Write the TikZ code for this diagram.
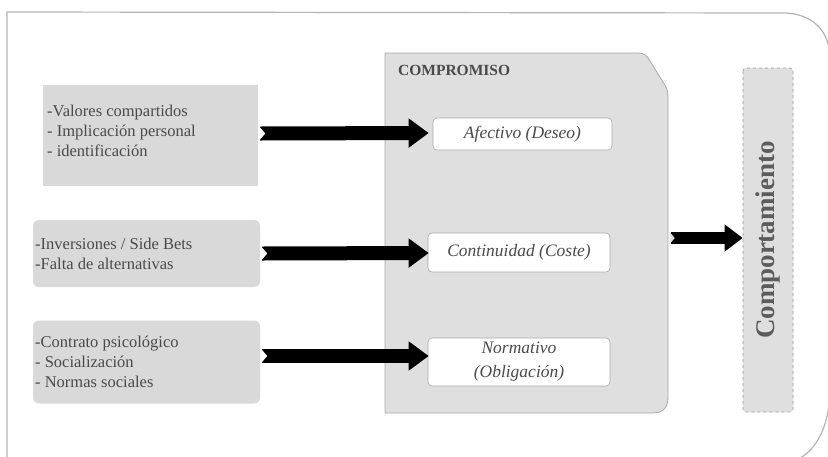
\documentclass[tikz,border=0pt]{standalone}
\usepackage{fontspec}
\setmainfont{Liberation Serif}
\usetikzlibrary{arrows.meta,calc}
\definecolor{txt}{HTML}{4A4A4A}
\definecolor{framecol}{HTML}{B4B4B4}
\definecolor{boxfill}{HTML}{D9D9D9}
\definecolor{cmpfill}{HTML}{DFDFDF}
\definecolor{cmpline}{HTML}{A8A8A8}
\begin{document}
\begin{tikzpicture}[x=1pt,y=-1pt,
  srcbox/.style={fill=boxfill, draw=none, inner sep=0pt, anchor=center},
  srctext/.style={text=txt, align=left, font=\fontsize{16.5}{20}\selectfont, inner sep=0pt, anchor=west},
  inbox/.style={fill=white, draw=cmpline, line width=0.6pt, rounded corners=4pt, text=txt, align=center, font=\fontsize{17.5}{24}\selectfont\itshape},
  bigarrow/.style={draw=black, line width=14pt, -{Triangle[width=28pt,length=20pt]}, shorten >=-1pt}
]
\useasboundingbox (0,0) rectangle (828,456);
\fill[white] (0,0) rectangle (828,456);
% outer frame
\draw[framecol, line width=1.2pt] (7,460) -- (7,12) -- (785,13) .. controls (812,14) and (826,30) .. (829,48);
\draw[framecol, line width=1.2pt] (829,405) .. controls (826,430) and (815,450) .. (800,458);

% source boxes
\node[srcbox, minimum width=215pt, minimum height=101pt] (b1) at (150.5,135.5) {};
\node[srctext] (t1) at (47,131) {-Valores compartidos\\ - Implicación personal\\ - identificación};
\node[srcbox, rounded corners=6pt, minimum width=227pt, minimum height=67pt] (b2) at (146.5,253.5) {};
\node[srctext] (t2) at (35,254) {-Inversiones / Side Bets\\-Falta de alternativas};
\node[srcbox, rounded corners=6pt, minimum width=227pt, minimum height=83pt] (b3) at (146.5,362) {};
\node[srctext] (t3) at (35,362) {-Contrato psicológico\\ - Socialización\\ - Normas sociales};

% compromiso container
\node[minimum width=283pt, minimum height=360pt, inner sep=0pt] (comp) at (526.5,233) {};
\draw[cmpline, fill=cmpfill, line width=0.8pt]
  (385,53) -- (638,53) .. controls (645,53) and (647,56) .. (650,61)
  -- (663,82) .. controls (666,87) and (668,90) .. (668,96)
  -- (668,397) .. controls (668,407) and (664,413) .. (652,413)
  -- (385,413) -- cycle;
\node[anchor=base west, text=txt, font=\fontsize{15.5}{17}\selectfont\bfseries, inner sep=0pt] (ctitle) at (398,75) {COMPROMISO};

% inner boxes
\node[inbox, minimum width=179pt, minimum height=32pt] (aff) at (522.5,134) {Afectivo (Deseo)};
\node[inbox, minimum width=182pt, minimum height=39pt] (cont) at (519,252.5) {Continuidad (Coste)};
\node[inbox, minimum width=182pt, minimum height=48pt] (norm) at (519,362) {Normativo\\(Obligación)};

% comportamiento
\node[rotate=90, fill=cmpfill, draw=gray!80, dashed, line width=0.6pt, rounded corners=3pt,
  minimum width=344pt, minimum height=50pt, text=txt!90,
  font=\fontsize{27}{30}\selectfont\bfseries] (beh) at (768,240) {Comportamiento};

% arrows
\draw[bigarrow] ($(b1.east)+(2,-2)$) -- ($(aff.west)+(-5,-1)$);
\draw[bigarrow] ($(b2.east)+(2,0)$) -- ($(cont.west)+(0,0.5)$);
\draw[bigarrow] ($(b3.east)+(2,-6)$) -- ($(norm.west)+(0,-6)$);
\draw[draw=black, line width=12pt, -{Triangle[width=26pt,length=18pt]}] ($(comp.east)+(3,5)$) -- ($(beh.north)+(0,-2)$);

% tail notches
\fill[white] ($(b1.east)+(1,-9)$) -- ++(6,7) -- ++(-6,7) -- cycle;
\fill[white] ($(b2.east)+(1,-7)$) -- ++(6,7) -- ++(-6,7) -- cycle;
\fill[white] ($(b3.east)+(1,-13)$) -- ++(6,7) -- ++(-6,7) -- cycle;
\fill[cmpfill] ($(comp.east)+(1.5,-1)$) -- ++(5,6) -- ++(-5,6) -- cycle;
\end{tikzpicture}
\end{document}
